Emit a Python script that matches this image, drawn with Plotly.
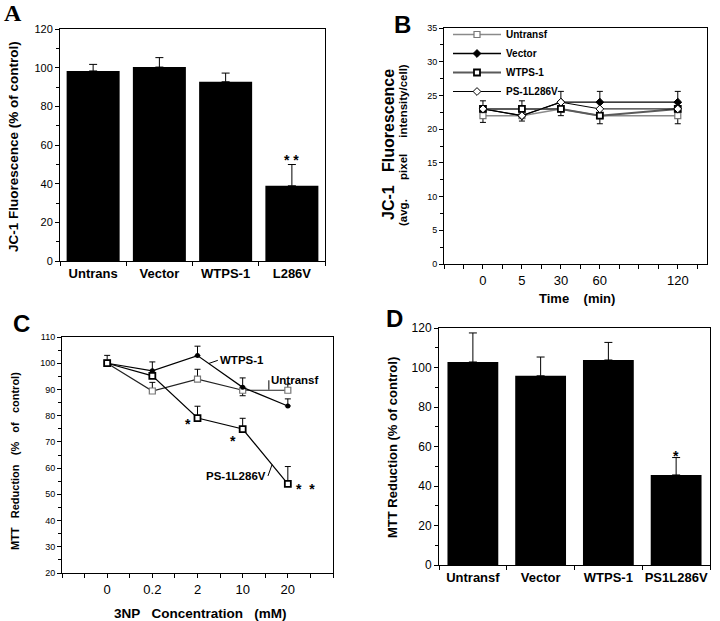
import plotly.graph_objects as go

W, H = 720, 621
def px(x): return x / W
def py(y): return 1 - y / H

FONT = "Liberation Sans, Arial, Helvetica, sans-serif"
SERIF = "Liberation Serif, Times New Roman, serif"

# ---------------- Panel A data ----------------
a_cats = ["Untrans", "Vector", "WTPS-1", "L286V"]
a_vals = [98.3, 100.3, 92.7, 38.9]
a_err = [3.4, 4.9, 4.5, 11.0]

# ---------------- Panel B data ----------------
b_time_labels = ["0", "5", "30", "60", "120"]
b_pos = [0, 1, 2, 3, 5]
b_untransf = [22, 22, 23, 22, 22]
b_vector = [23, 22, 24, 24, 24]
b_wtps = [23, 23, 23, 22, 23]
b_ps = [23, 22, 24, 23, 23]
b_untransf_up = [0, 0, 0, 0, 0]
b_untransf_dn = [1.0, 0, 0, 0, 1.2]
b_vector_up = [0, 0, 0, 1.6, 1.6]
b_vector_dn = [0, 0.8, 0, 0, 0]
b_wtps_up = [1.2, 1.2, 0, 0, 0]
b_wtps_dn = [0, 0, 1.0, 1.2, 0]
b_ps_up = [0, 0, 1.6, 0, 0]
b_ps_dn = [0, 0, 0, 0, 0]

# ---------------- Panel C data ----------------
c_conc_labels = ["0", "0.2", "2", "10", "20"]
c_pos = [0, 1, 2, 3, 4]
c_untransf = [100, 89.4, 93.9, 89.7, 89.7]
c_untransf_up = [3.0, 3.3, 3.8, 0, 2.3]
c_untransf_dn = [0, 0, 0, 2.1, 0]
c_wtps = [100, 97.1, 102.9, 90.8, 83.7]
c_wtps_up = [0, 3.4, 3.6, 3.6, 2.7]
c_wtps_dn = [0, 0, 0, 0, 0]
c_ps = [100, 95.2, 79.1, 74.9, 54.0]
c_ps_up = [0, 0, 4.5, 4.1, 6.6]
c_ps_dn = [0, 0, 0, 0, 0]

# ---------------- Panel D data ----------------
d_cats = ["Untransf", "Vector", "WTPS-1", "PS1L286V"]
d_vals = [102.8, 95.8, 103.8, 45.6]
d_err = [14.7, 9.5, 8.9, 8.8]

fig = go.Figure()

def err_trace(x, y, up, dn, xa, ya):
    idx = [i for i in range(len(y)) if up[i] > 0 or dn[i] > 0]
    return go.Scatter(
        x=[x[i] for i in idx], y=[y[i] for i in idx], mode="markers",
        marker=dict(size=1, opacity=0),
        error_y=dict(type="data", symmetric=False,
                     array=[up[i] for i in idx], arrayminus=[dn[i] for i in idx],
                     width=3, thickness=1, color="black"),
        xaxis=xa, yaxis=ya, showlegend=False, hoverinfo="skip")

# Panel A bars
fig.add_trace(go.Bar(
    x=a_cats, y=a_vals, width=0.8,
    marker=dict(color="black", line=dict(width=0)),
    error_y=dict(type="data", symmetric=False, array=a_err, arrayminus=[0] * 4,
                 color="black", thickness=1, width=4),
    xaxis="x", yaxis="y", showlegend=False))

# Panel D bars
fig.add_trace(go.Bar(
    x=d_cats, y=d_vals, width=0.75,
    marker=dict(color="black", line=dict(width=0)),
    error_y=dict(type="data", symmetric=False, array=d_err, arrayminus=[0] * 4,
                 color="black", thickness=1, width=4),
    xaxis="x4", yaxis="y4", showlegend=False))

# Panel B lines
b_series = [
    ("Untransf", b_untransf, b_untransf_up, b_untransf_dn, "#8a8a8a", 1.5,
     dict(symbol="square", size=6, color="white", line=dict(color="#777777", width=1.2))),
    ("Vector", b_vector, b_vector_up, b_vector_dn, "black", 1.3,
     dict(symbol="diamond", size=6, color="black", line=dict(color="black", width=1))),
    ("WTPS-1", b_wtps, b_wtps_up, b_wtps_dn, "#5a5a5a", 2.0,
     dict(symbol="square", size=6, color="white", line=dict(color="black", width=1.8))),
    ("PS-1L286V", b_ps, b_ps_up, b_ps_dn, "black", 1.0,
     dict(symbol="diamond", size=6, color="white", line=dict(color="black", width=1))),
]
for name, ys, up, dn, col, lw, mk in b_series:
    fig.add_trace(err_trace(b_pos, ys, up, dn, "x2", "y2"))
for name, ys, up, dn, col, lw, mk in b_series:
    fig.add_trace(go.Scatter(
        x=b_pos, y=ys, mode="lines+markers", name=name,
        line=dict(color=col, width=lw), marker=mk,
        xaxis="x2", yaxis="y2", showlegend=True))

# Panel C lines
c_series = [
    ("Untransf", c_untransf, c_untransf_up, c_untransf_dn, "#222222", 1.2,
     dict(symbol="square", size=6, color="white", line=dict(color="#777777", width=1.2))),
    ("WTPS-1", c_wtps, c_wtps_up, c_wtps_dn, "black", 1.2,
     dict(symbol="circle", size=5, color="black")),
    ("PS-1L286V", c_ps, c_ps_up, c_ps_dn, "black", 1.2,
     dict(symbol="square", size=6, color="white", line=dict(color="black", width=1.8))),
]
for name, ys, up, dn, col, lw, mk in c_series:
    fig.add_trace(err_trace(c_pos, ys, up, dn, "x3", "y3"))
for name, ys, up, dn, col, lw, mk in c_series:
    fig.add_trace(go.Scatter(
        x=c_pos, y=ys, mode="lines+markers", name=name,
        line=dict(color=col, width=lw), marker=mk,
        xaxis="x3", yaxis="y3", showlegend=False))

def ax(**kw):
    d = dict(showline=True, linecolor="black", linewidth=1, mirror=True,
             ticks="outside", ticklen=4, tickcolor="black", tickwidth=1,
             showgrid=False, zeroline=False, automargin=False,
             tickfont=dict(family=FONT, size=11, color="black"))
    d.update(kw)
    return d

minor = lambda dt: dict(dtick=dt, ticklen=3, ticks="outside", tickcolor="black", tickwidth=1, showgrid=False)

fig.update_layout(
    width=W, height=H, margin=dict(l=0, r=0, t=0, b=0, autoexpand=False),
    paper_bgcolor="white", plot_bgcolor="white",
    bargap=0.2, showlegend=True,
    font=dict(family=FONT, color="black"),
    legend=dict(x=px(448), y=py(20), xanchor="left", yanchor="top",
                bgcolor="rgba(0,0,0,0)", itemwidth=48,
                font=dict(family=FONT, size=10, color="black", weight="bold"),
                tracegroupgap=0),
    xaxis=ax(domain=[px(60), px(325)], anchor="y", type="category",
             tickson="boundaries", range=[-0.5, 3.5], tickangle=0,
             tickfont=dict(family=FONT, size=13, color="black", weight="bold")),
    yaxis=ax(domain=[py(261), py(29)], anchor="x", range=[0, 120], dtick=20,
             minor=minor(10), tickfont=dict(family=FONT, size=11, color="black")),
    xaxis2=ax(domain=[px(444), px(707)], anchor="y2", range=[-1, 5.75],
              tickmode="array", tickvals=b_pos, ticktext=b_time_labels, tickangle=0,
              minor=dict(tick0=0, dtick=0.5, ticklen=4, ticks="outside", tickcolor="black"),
              tickfont=dict(family=FONT, size=13, color="black")),
    yaxis2=ax(domain=[py(264), py(28)], anchor="x2", range=[0, 35], dtick=5,
              minor=minor(2.5), tickfont=dict(family=FONT, size=9, color="black")),
    xaxis3=ax(domain=[px(62), px(333)], anchor="y3", range=[-1, 5],
              tickmode="array", tickvals=c_pos, ticktext=c_conc_labels, tickangle=0,
              minor=dict(tick0=0, dtick=0.5, ticklen=4, ticks="outside", tickcolor="black"),
              tickfont=dict(family=FONT, size=13, color="black")),
    yaxis3=ax(domain=[py(573), py(337)], anchor="x3", range=[20, 110], dtick=10,
              minor=minor(5), tickfont=dict(family=FONT, size=9, color="black")),
    xaxis4=ax(domain=[px(439), px(710)], anchor="y4", type="category",
              tickson="boundaries", range=[-0.5, 3.5], tickangle=0,
              tickfont=dict(family=FONT, size=13, color="black", weight="bold")),
    yaxis4=ax(domain=[py(565), py(328)], anchor="x4", range=[0, 120], dtick=20,
              minor=minor(10), tickfont=dict(family=FONT, size=12, color="black")),
)

NB = "\u00a0"
ann = []
def paper_text(text, x, y, size, angle=0, family=FONT, weight="bold", xanchor="center", yanchor="middle"):
    ann.append(dict(text=text, x=px(x), y=py(y), xref="paper", yref="paper",
                    showarrow=False, textangle=angle, xanchor=xanchor, yanchor=yanchor,
                    font=dict(family=family, size=size, color="black", weight=weight)))

# Panel letters
paper_text("A", 2, 13, 24, family=SERIF, xanchor="left")
paper_text("B", 392, 25, 24, xanchor="left")
paper_text("C", 11, 323, 24, xanchor="left")
paper_text("D", 384, 319, 24, xanchor="left")

# Axis titles
paper_text("JC-1 Fluorescence (% of control)", 14, 147, 13.5, angle=-90)
paper_text("JC-1" + NB * 3 + "Fluorescence", 388, 145, 16, angle=-90)
paper_text("(avg." + NB * 6 + "pixel" + NB * 5 + "intensity/cell)", 403, 145, 11.5, angle=-90)
paper_text("Time" + NB * 4 + "(min)", 577, 299, 13)
paper_text("MTT" + NB * 3 + "Reduction" + NB * 3 + "(%" + NB * 3 + "of" + NB * 3 + "control)", 15, 461, 11, angle=-90)
paper_text("3NP" + NB * 3 + "Concentration" + NB * 3 + "(mM)", 200, 613, 13.5)
paper_text("MTT Reduction (% of control)", 392, 447, 13, angle=-90)

def data_text(text, x, y, xr, yr, size=14):
    ann.append(dict(text=text, x=x, y=y, xref=xr, yref=yr, showarrow=False,
                    font=dict(family=FONT, size=size, color="black", weight="bold")))

# significance stars
data_text("*" + NB + "*", 3, 52.5, "x", "y")
data_text("*", 3, 55, "x4", "y4")
data_text("*", 1.79, 76.8, "x3", "y3")
data_text("*", 2.79, 70.4, "x3", "y3")
data_text("*" + NB + NB + "*", 4.4, 52.0, "x3", "y3")

# Panel C series labels with leader lines
def leader(text, x, y, axx, ayy, xanchor):
    ann.append(dict(text=text, x=x, y=y, ax=axx, ay=ayy, xref="x3", yref="y3",
                    axref="x3", ayref="y3", showarrow=True, arrowhead=0,
                    arrowwidth=1, arrowcolor="black", standoff=0, startstandoff=0,
                    xanchor=xanchor, yanchor="middle",
                    font=dict(family=FONT, size=11.5, color="black", weight="bold")))

leader("WTPS-1", 2.25, 99.9, 2.45, 101.1, "left")
leader("Untransf", 3.58, 89.9, 3.58, 93.5, "left")
leader("PS-1L286V", 3.65, 61.3, 3.56, 57.0, "right")

fig.update_layout(annotations=ann)
fig.write_html("out.html", config={"displayModeBar": False},
               post_script="document.body.style.margin='0px';")
